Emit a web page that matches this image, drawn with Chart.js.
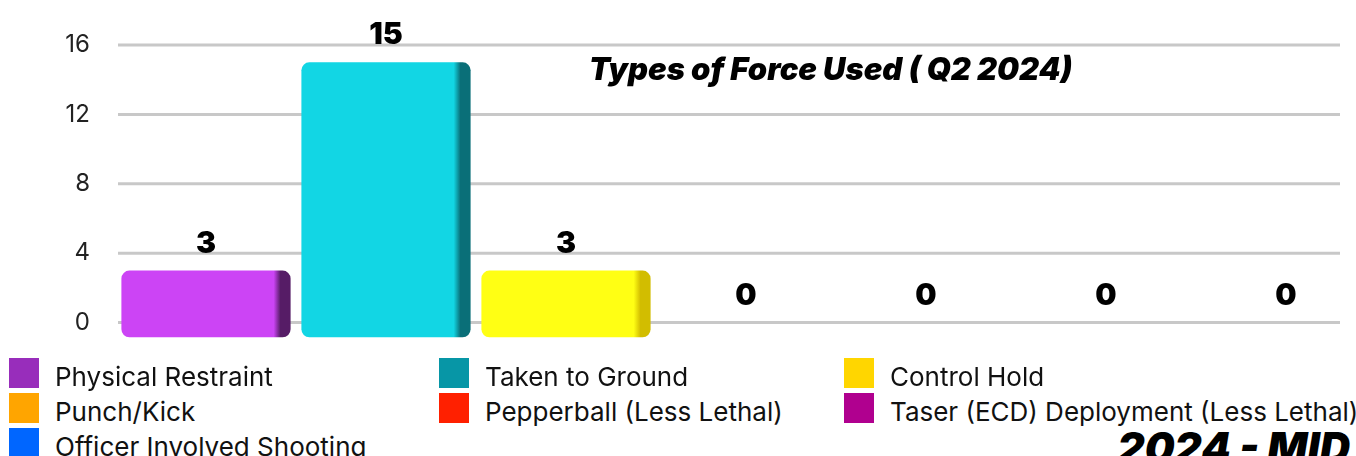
<!DOCTYPE html>
<html>
<head>
<meta charset="utf-8">
<script src="https://cdn.jsdelivr.net/npm/chart.js@4/dist/chart.umd.min.js"></script>
<style>
  html, body { margin: 0; padding: 0; background: #fff; overflow: hidden; width: 1356px; height: 456px; }
  #wrap { position: absolute; left: 0; top: 0; width: 1376px; height: 363px; }
  #title { position: absolute; left: 589px; top: 50px; font: italic 900 31px Inter, sans-serif; color: #000; white-space: nowrap; letter-spacing: 0; }
  #legend { position: absolute; left: 9px; top: 358px; font: 26px Inter, sans-serif; color: #111; }
  .item { position: absolute; height: 30px; display: flex; align-items: center; white-space: nowrap; }
  .item .box { width: 30px; height: 30px; margin-right: 16px; flex: none; }
  .item .txt { position: relative; top: 3px; }
  #mid { position: absolute; right: 6px; top: 422px; font: italic 900 42px Inter, sans-serif; color: #000; white-space: nowrap; }
</style>
</head>
<body>
<div id="wrap"><canvas id="chart"></canvas></div>
<div id="title">Types of Force Used ( Q2 2024)</div>
<div id="legend"></div>
<div id="mid">2024 - MID</div>
<script>
// Данные
const categories = ['Physical Restraint', 'Taken to Ground', 'Control Hold', 'Punch/Kick', 'Pepperball (Less Lethal)', 'Taser (ECD) Deployment (Less Lethal)', 'Officer Involved Shooting'];
const counts = [3, 15, 3, 0, 0, 0, 0];
const yTicks = [0, 4, 8, 12, 16];

// цвета
const legendColors = ['#982DBB', '#0796A6', '#FFD600', '#FFA500', '#FF2000', '#B0008F', '#0066FF'];
const barFront = ['#CC44F5', '#12D6E4', '#FFFF14', '#FFA500', '#FF2000', '#B0008F', '#0066FF'];
const barSide = ['#561c66', '#0a6f78', '#d2bd00', '#a06000', '#a01000', '#600050', '#003a90'];

// легенда (3 колонки)
const legend = document.getElementById('legend');
const colX = [0, 430, 835];
categories.forEach((name, i) => {
  const el = document.createElement('div');
  el.className = 'item';
  el.style.left = colX[i % 3] + 'px';
  el.style.top = (Math.floor(i / 3) * 35) + 'px';
  el.innerHTML = `<span class="box" style="background:${legendColors[i]}"></span><span class="txt">${name}</span>`;
  legend.appendChild(el);
});

const BAR_FRACTION = 0.94;

function barFill(c) {
  const chart = c.chart;
  const i = c.dataIndex;
  if (i != null && counts[i] === 0) return 'rgba(0,0,0,0)'; // нулевые не рисуем
  const xs = chart.scales && chart.scales.x;
  if (i == null || !xs || !chart.chartArea) return barFront[i || 0];
  const cx = xs.getPixelForValue(i);
  const w = xs.width / categories.length * BAR_FRACTION;
  const g = chart.ctx.createLinearGradient(cx - w / 2, 0, cx + w / 2, 0);
  g.addColorStop(0, barFront[i]);
  g.addColorStop(0.9, barFront[i]);
  g.addColorStop(0.94, barSide[i]);
  g.addColorStop(1, barSide[i]);
  return g;
}

// сетка до фиксированной точки справа
const gridPlugin = {
  id: 'grid',
  beforeDatasetsDraw(chart) {
    const { ctx, chartArea, scales } = chart;
    ctx.save();
    ctx.strokeStyle = '#c8c8c8';
    ctx.lineWidth = 3;
    yTicks.forEach(v => {
      const y = scales.y.getPixelForValue(v);
      ctx.beginPath();
      ctx.moveTo(chartArea.left + 2, y);
      ctx.lineTo(1340, y);
      ctx.stroke();
    });
    ctx.restore();
  }
};

// подписи значений
const valuePlugin = {
  id: 'values',
  afterDatasetsDraw(chart) {
    const { ctx, scales } = chart;
    ctx.save();
    ctx.font = '900 30px Inter, sans-serif';
    ctx.fillStyle = '#000';
    ctx.textAlign = 'center';
    ctx.textBaseline = 'middle';
    counts.forEach((v, i) => {
      const x = scales.x.getPixelForValue(i);
      const y = scales.y.getPixelForValue(v);
      ctx.fillText(String(v), x, y - 27);
    });
    ctx.restore();
  }
};

new Chart(document.getElementById('chart'), {
  type: 'bar',
  data: {
    labels: categories,
    datasets: [{
      data: counts,
      base: -0.85,
      clip: false,
      backgroundColor: barFill,
      borderRadius: 8,
      borderSkipped: false,
      categoryPercentage: 1,
      barPercentage: BAR_FRACTION
    }]
  },
  options: {
    responsive: true,
    maintainAspectRatio: false,
    animation: false,
    layout: { padding: { top: 45, bottom: 27, left: 0, right: 0 } },
    plugins: { legend: { display: false }, tooltip: { enabled: false } },
    scales: {
      x: { display: false, offset: true, grid: { display: false } },
      y: {
        min: 0, max: 16,
        border: { display: false },
        grid: { display: false, drawTicks: false },
        ticks: { stepSize: 4, padding: 26, color: '#222', font: { family: 'Inter', size: 24 } },
        afterFit(scale) { scale.width = 116; }
      }
    }
  },
  plugins: [gridPlugin, valuePlugin]
});
</script>
</body>
</html>
